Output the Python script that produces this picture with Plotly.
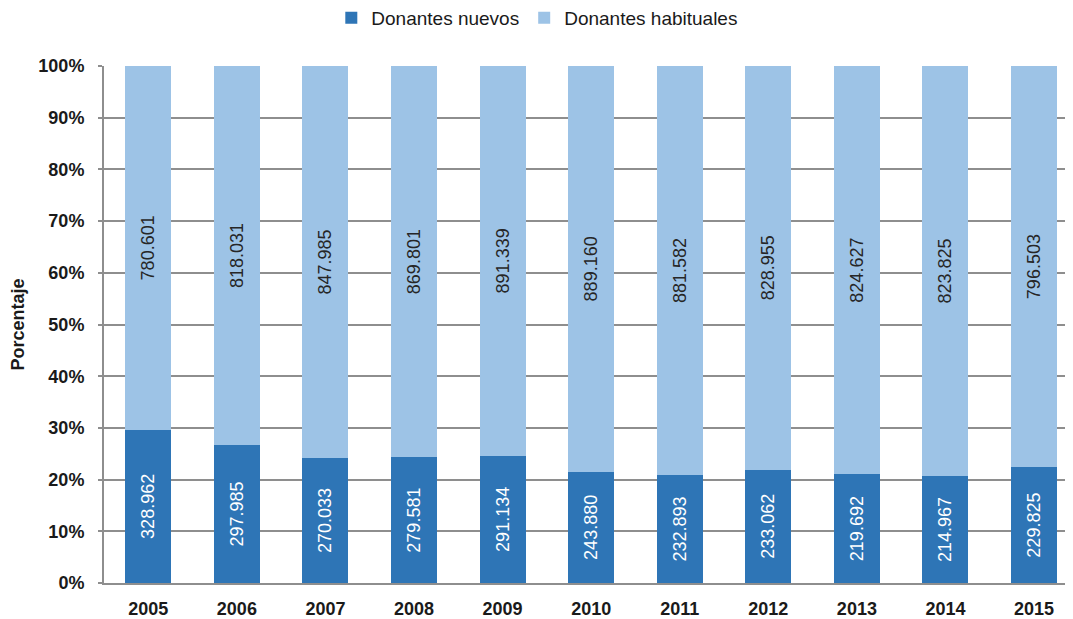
import plotly.graph_objects as go

years = ["2005", "2006", "2007", "2008", "2009", "2010", "2011", "2012", "2013", "2014", "2015"]
nuevos = [328962, 297985, 270033, 279581, 291134, 243880, 232893, 233062, 219692, 214967, 229825]
habituales = [780601, 818031, 847985, 869801, 891339, 889160, 881582, 828955, 824627, 823825, 796503]
y_ticks = [0, 10, 20, 30, 40, 50, 60, 70, 80, 90, 100]


def fmt(v):
    return f"{v:,}".replace(",", ".")


FONT = "Liberation Sans, Arial, sans-serif"
GRID = "#8e8e8e"

fig = go.Figure()
fig.add_trace(go.Bar(
    x=years, y=nuevos, name="Donantes nuevos",
    marker=dict(color="#2E75B6", line=dict(width=0)),
    text=[fmt(v) for v in nuevos], textposition="inside", insidetextanchor="middle",
    textangle=-90, textfont=dict(color="white", size=18, family=FONT),
))
fig.add_trace(go.Bar(
    x=years, y=habituales, name="Donantes habituales",
    marker=dict(color="#9DC3E6", line=dict(width=0)),
    text=[fmt(v) for v in habituales], textposition="inside", insidetextanchor="middle",
    textangle=-90, textfont=dict(color="#262626", size=18, family=FONT),
))

# the page body adds an 8px offset, so the figure is sized to fit the window
fig.update_layout(
    width=1065, height=611,
    barmode="stack", barnorm="percent", bargap=0.48,
    plot_bgcolor="white", paper_bgcolor="white",
    margin=dict(l=96, r=0, t=58, b=36, autoexpand=False),
    font=dict(family=FONT, color="#1a1a1a", size=17),
    uniformtext=dict(mode=False),
    legend=dict(
        orientation="h", xref="container", yref="container",
        x=0.497, xanchor="center", y=0.984, yanchor="middle",
        font=dict(size=19, family=FONT, color="#1a1a1a"),
        itemwidth=30, traceorder="normal",
    ),
    xaxis=dict(
        type="category", range=[-0.5, 10.44], automargin=False,
        showline=True, linecolor=GRID, linewidth=2,
        tickfont=dict(size=18, family=FONT, weight="bold", color="#1a1a1a"),
        ticks="", ticklabelstandoff=8, showgrid=False,
    ),
    yaxis=dict(
        range=[0, 100], tickvals=y_ticks, ticktext=[f"{t}%" for t in y_ticks],
        automargin=False,
        showgrid=True, gridcolor=GRID, gridwidth=1.5,
        showline=True, linecolor=GRID, linewidth=2,
        ticks="outside", ticklen=4, tickcolor=GRID, tickwidth=1.5,
        tickfont=dict(size=18, family=FONT, weight="bold", color="#1a1a1a"),
        ticklabelstandoff=10, zeroline=False,
        title=dict(text="Porcentaje", font=dict(size=18, family=FONT, weight="bold", color="#1a1a1a"), standoff=20),
    ),
)

fig.write_html("out.html")
